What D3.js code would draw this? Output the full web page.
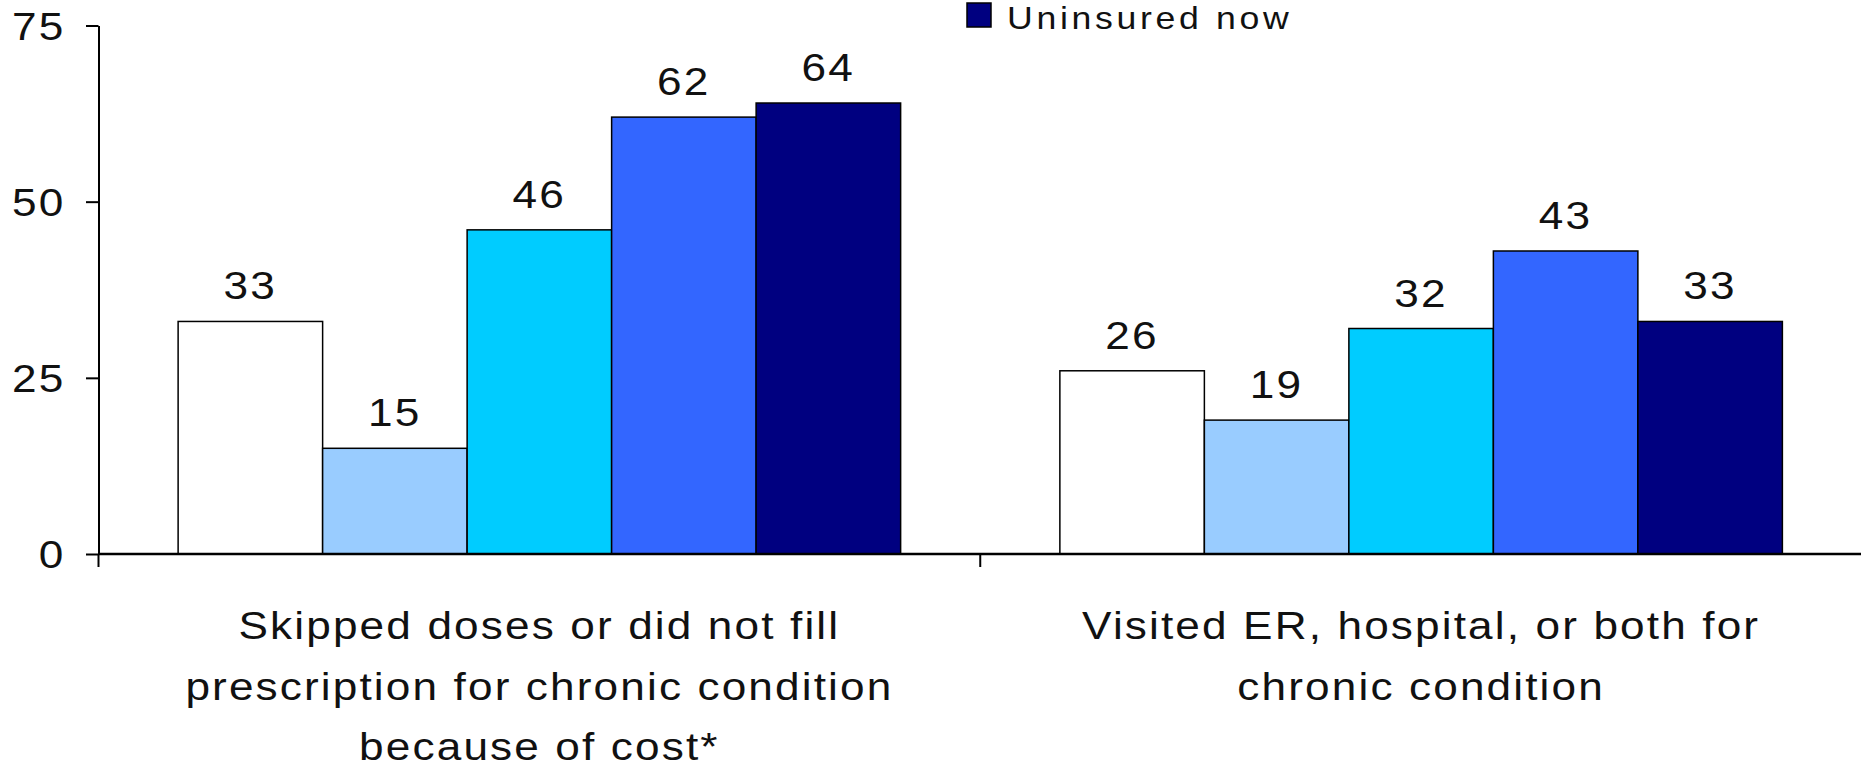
<!DOCTYPE html>
<html>
<head>
<meta charset="utf-8">
<script src="https://cdn.jsdelivr.net/npm/d3@7/dist/d3.min.js"></script>
<style>
  html, body { margin: 0; padding: 0; background: #ffffff; overflow: hidden; }
  svg { display: block; font-family: "Liberation Sans", Arial, sans-serif; }
</style>
</head>
<body>
<svg id="chart" width="1861" height="768"></svg>
<script>
// ---- data ----
const categories = ["skipped", "visited"];
const categoryLines = [
  ["Skipped doses or did not fill", "prescription for chronic condition", "because of cost*"],
  ["Visited ER, hospital, or both for", "chronic condition"]
];
const seriesNames = [
  "Total",
  "Insured all year, not underinsured",
  "Underinsured",
  "Insured now, time uninsured in past year",
  "Uninsured now"
];
const skippedDoses = [33, 15, 46, 62, 64];
const visitedER = [26, 19, 32, 43, 33];
const yTicks = [0, 25, 50, 75];
const seriesColors = ["#FFFFFF", "#99CCFF", "#00CCFF", "#3366FF", "#000080"];

const valuesByCategory = [skippedDoses, visitedER];

// ---- layout ----
const W = 1861, H = 768;
const SX = 1.15;          // horizontal text stretch
const FS = 38.4;          // main font size
const LS = 2;             // letter spacing
const TEXT_COLOR = "#111";

const svg = d3.select("#chart");

const y = d3.scaleLinear().domain([0, 75]).range([554, 25.5]);
const x0 = d3.scaleBand().domain(categories).range([98.5, 1862]).paddingInner(0).paddingOuter(0);
const x1 = d3.scaleBand().domain(seriesNames).range([0, x0.bandwidth()]).paddingInner(0).paddingOuter(0.551);
const color = d3.scaleOrdinal().domain(seriesNames).range(seriesColors);

function sText(parent, x, yy, str, anchor, fs, ls) {
  const g = parent.append("g").attr("transform", `translate(${x},${yy}) scale(${SX},1)`);
  g.append("text")
    .attr("text-anchor", anchor)
    .attr("font-size", fs)
    .attr("letter-spacing", ls)
    .attr("fill", TEXT_COLOR)
    .text(str);
  return g;
}

// ---- bars ----
const rows = [];
categories.forEach((c, ci) => {
  seriesNames.forEach((s, si) => {
    rows.push({ cat: c, series: s, value: valuesByCategory[ci][si] });
  });
});

svg.append("g").selectAll("rect").data(rows).join("rect")
  .attr("x", d => x0(d.cat) + x1(d.series))
  .attr("y", d => y(d.value))
  .attr("width", x1.bandwidth())
  .attr("height", d => y(0) - y(d.value))
  .attr("fill", d => color(d.series))
  .attr("stroke", "#000")
  .attr("stroke-width", 1.5);

// ---- value labels ----
const vl = svg.append("g");
rows.forEach(d => {
  sText(vl, x0(d.cat) + x1(d.series) + x1.bandwidth() / 2, y(d.value) - 22, String(d.value), "middle", FS, LS);
});

// ---- y axis ----
const yAxis = svg.append("g")
  .attr("transform", "translate(98.5,0)")
  .call(d3.axisLeft(y).tickValues(yTicks).tickSize(12.5).tickSizeOuter(0).tickFormat(d3.format("d")));
yAxis.select(".domain").attr("stroke", "#000").attr("stroke-width", 2);
yAxis.selectAll(".tick line").attr("stroke", "#000").attr("stroke-width", 2);
yAxis.selectAll(".tick text")
  .attr("x", -28.5)
  .attr("dy", "0.36em")
  .attr("transform", `scale(${SX},1)`)
  .attr("font-size", FS)
  .attr("letter-spacing", LS)
  .attr("font-family", "Liberation Sans, Arial, sans-serif")
  .attr("fill", TEXT_COLOR);

// ---- x axis ----
const xAxisG = svg.append("g");
xAxisG.append("line")
  .attr("x1", x0.range()[0]).attr("x2", W)
  .attr("y1", y(0)).attr("y2", y(0))
  .attr("stroke", "#000").attr("stroke-width", 2.5);
const boundaries = categories.map(c => x0(c)).concat([x0.range()[1]]);
xAxisG.selectAll("line.tick").data(boundaries).join("line")
  .attr("class", "tick")
  .attr("x1", d => d).attr("x2", d => d)
  .attr("y1", y(0)).attr("y2", y(0) + 13)
  .attr("stroke", "#000").attr("stroke-width", 2);

// ---- category labels ----
const cl = svg.append("g");
categories.forEach((c, ci) => {
  const cx = x0(c) + x0.bandwidth() / 2;
  categoryLines[ci].forEach((line, li) => {
    sText(cl, cx, 639 + li * 60.5, line, "middle", FS, 1.85);
  });
});

// ---- legend (only entries inside the visible area) ----
const legendRowH = 40;
const lg = svg.append("g");
seriesNames.forEach((s, i) => {
  const base = 29 - (seriesNames.length - 1 - i) * legendRowH;
  if (base <= 0) return;
  lg.append("rect")
    .attr("x", 967).attr("y", base - 26)
    .attr("width", 24).attr("height", 24)
    .attr("fill", color(s)).attr("stroke", "#000").attr("stroke-width", 1.5);
  sText(lg, 1007, base, s, "start", 31, 3.2);
});
</script>
</body>
</html>
